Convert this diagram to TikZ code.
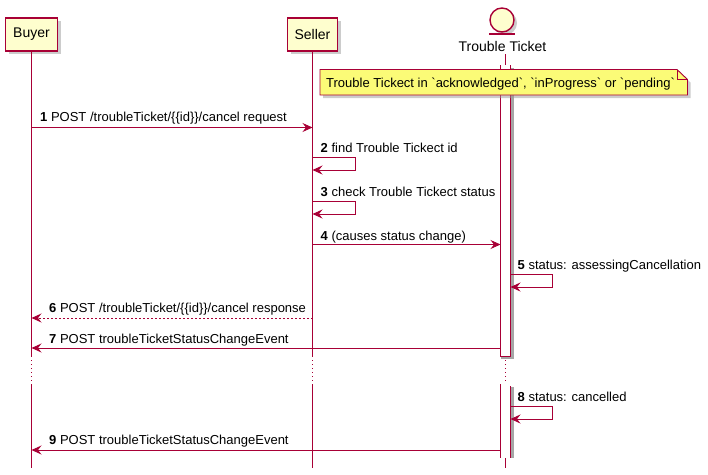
\documentclass[tikz,border=0pt]{standalone}
\usepackage{fontspec}
\setmainfont{Liberation Sans}
\newfontfamily\umlfont{Liberation Sans}
\usetikzlibrary{arrows.meta,shadows}

\definecolor{umlred}{HTML}{A80036}
\definecolor{umlbox}{HTML}{FEFECE}
\definecolor{umlnote}{HTML}{FBFB77}

\begin{document}
\begin{tikzpicture}[x=1pt, y=-1pt,
  actor/.style={draw=umlred, fill=umlbox, line width=1.3pt, inner sep=0pt,
    minimum height=33pt, font=\umlfont\fontsize{14}{16}\selectfont,
    drop shadow={shadow xshift=3pt, shadow yshift=-3pt, fill=black!40, opacity=0.5}},
  life/.style={umlred, line width=0.9pt},
  delay/.style={umlred, line width=0.9pt, dash pattern=on 1pt off 3pt},
  msg/.style={umlred, line width=0.9pt, -{Stealth[length=10pt, width=9pt, inset=3.5pt]}},
  reply/.style={msg, dash pattern=on 2pt off 2pt},
  lbl/.style={anchor=base west, inner sep=0pt, text=black, font=\umlfont\fontsize{13}{15}\selectfont},
]
\useasboundingbox (0,0) rectangle (708,474);

% Draw participants.
\node[actor, minimum width=52pt] (buyer) at (31.5,34.5) {Buyer};
\node[actor, minimum width=50pt] (seller) at (312.5,34.5) {Seller};
\node[circle, draw=umlred, fill=umlbox, line width=1.4pt, minimum size=24pt, inner sep=0pt,
  drop shadow={shadow xshift=3pt, shadow yshift=-3pt, fill=black!40, opacity=0.5}] (ticketicon) at (502,20) {};
\draw[umlred, line width=1.4pt] (489,34) -- (515,34);
\node[inner sep=0pt, font=\umlfont\fontsize{14}{16}\selectfont] (ticketlabel) at (502.5,46) {Trouble Ticket};
\coordinate (ticket) at (505.5,0);
\coordinate (barl) at (500.5,0);
\coordinate (barr) at (510.5,0);

% Draw lifelines.
\draw[life] (buyer.south) -- (buyer |- 0,357);
\draw[delay] (buyer |- 0,360) -- (buyer |- 0,384);
\draw[life] (buyer |- 0,384) -- (buyer |- 0,468);

\draw[life] (seller.south) -- (seller |- 0,357);
\draw[delay] (seller |- 0,360) -- (seller |- 0,384);
\draw[life] (seller |- 0,384) -- (seller |- 0,468);

\draw[life] (ticket |- 0,54) -- (ticket |- 0,357);
\draw[delay] (ticket |- 0,360) -- (ticket |- 0,384);
\draw[life] (ticket |- 0,384) -- (ticket |- 0,468);

% Draw activations.
\fill[black!35] (513.5,68) rectangle (510.5,359);
\fill[black!35] (500.5,356) rectangle (513.5,359);
\fill[white] (barl |- 0,65) rectangle (barr |- 0,356);
\draw[life] (barl |- 0,65) -- (barl |- 0,356) -- (barr |- 0,356) -- (barr |- 0,65);

\fill[black!35] (510.5,387) rectangle (513.5,458);
\fill[white] (barl |- 0,384) rectangle (barr |- 0,458);
\draw[life] (barl |- 0,384) -- (barl |- 0,458);
\draw[life] (barr |- 0,386) -- (barr |- 0,458);

% Draw note.
\fill[black!40, opacity=0.5] (323,72.5) -- (680,72.5) -- (690.5,82.5) -- (690.5,98) -- (323,98) -- cycle;
\filldraw[draw=umlred, fill=umlnote, line width=0.9pt]
  (320,69.5) -- (677,69.5) -- (687.5,79.5) -- (687.5,95) -- (320,95) -- cycle;
\draw[umlred, line width=0.9pt] (677,69.5) -- (677,79.5) -- (687.5,79.5);
\node[lbl] (note) at (326,87) {Trouble Tickect in `acknowledged`, `inProgress` or `pending`};

% Draw messages.
\draw[msg] (buyer |- 0,127.5) -- (seller |- 0,127.5);
\node[lbl] (m1) at (40,121.5) {\textbf{1} POST /troubleTicket/\{\{id\}\}/cancel request};

\draw[msg] (seller |- 0,157.5) -- (355,157.5) -- (355,170) -- (seller |- 0,170);
\node[lbl] (m2) at (320.5,152.5) {\textbf{2} find Trouble Tickect id};

\draw[msg] (seller |- 0,201) -- (355,201) -- (355,214) -- (seller |- 0,214);
\node[lbl] (m3) at (320.5,196) {\textbf{3} check Trouble Tickect status};

\draw[msg] (seller |- 0,244.5) -- (barl |- 0,244.5);
\node[lbl] (m4) at (320.5,240) {\textbf{4} (causes status change)};

\draw[msg] (barr |- 0,274.5) -- (552,274.5) -- (552,287) -- (barr |- 0,287);
\node[lbl] (m5) at (517.5,269.5) {\textbf{5} status: assessingCancellation};

\draw[reply] (seller |- 0,318) -- (buyer |- 0,318);
\node[lbl] (m6) at (49,312.5) {\textbf{6} POST /troubleTicket/\{\{id\}\}/cancel response};

\draw[msg] (barl |- 0,348) -- (buyer |- 0,348);
\node[lbl] (m7) at (49,343.5) {\textbf{7} POST troubleTicketStatusChangeEvent};

\draw[msg] (barr |- 0,406.5) -- (552,406.5) -- (552,419) -- (barr |- 0,419);
\node[lbl] (m8) at (517.5,401.5) {\textbf{8} status: cancelled};

\draw[msg] (barl |- 0,450) -- (buyer |- 0,450);
\node[lbl] (m9) at (49,444.5) {\textbf{9} POST troubleTicketStatusChangeEvent};

\end{tikzpicture}
\end{document}
